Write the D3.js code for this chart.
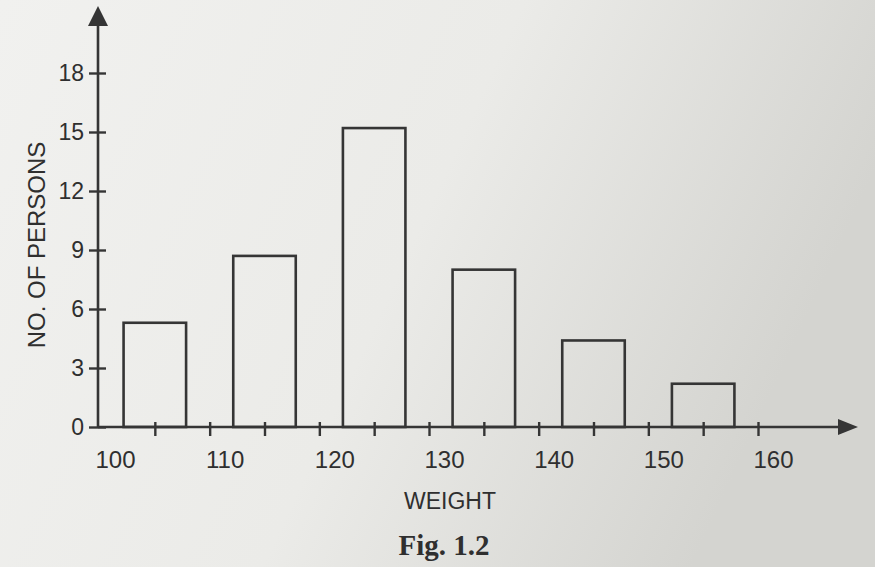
<!DOCTYPE html>
<html>
<head>
<meta charset="utf-8">
<script src="https://cdn.jsdelivr.net/npm/d3@7"></script>
<style>
  html, body { margin: 0; padding: 0; background: #efefec; }
  svg { display: block; }
  text { font-family: "Liberation Sans", Arial, sans-serif; fill: #2f2f2f; }
</style>
</head>
<body>
<svg id="chart" width="875" height="567"></svg>
<script>
// ---- data ----
const classStarts = [100, 110, 120, 130, 140, 150];
const persons = [5.3, 8.7, 15.2, 8.0, 4.4, 2.2];
const yTickValues = [0, 3, 6, 9, 12, 15, 18];
const xLabelValues = [100, 110, 120, 130, 140, 150, 160];
const xMinorTicks = [105, 110, 115, 120, 125, 130, 135, 140, 145, 150, 155, 160];
const xTitle = "WEIGHT";
const yTitle = "NO. OF PERSONS";
const caption = "Fig. 1.2";

// ---- setup ----
const svg = d3.select("#chart");
const ink = "#353535";
const textInk = "#2c2c2c";

const defs = svg.append("defs");
const grad = defs.append("linearGradient").attr("id", "paper")
  .attr("x1", "0").attr("y1", "0").attr("x2", "1").attr("y2", "0.3");
grad.append("stop").attr("offset", "0").attr("stop-color", "#f1f1ef");
grad.append("stop").attr("offset", "0.55").attr("stop-color", "#ebebe8");
grad.append("stop").attr("offset", "1").attr("stop-color", "#d4d4d0");
svg.append("rect").attr("width", 875).attr("height", 567).attr("fill", "url(#paper)");

const x = d3.scaleLinear().domain([100, 160]).range([100, 758]);
const y = d3.scaleLinear().domain([0, 18]).range([427, 73]);
const axisX0 = 98;
const axisY0 = y(0);

// ---- bars ----
const barHalf = 2.85;
svg.append("g").selectAll("rect").data(classStarts).join("rect")
  .attr("x", (d) => x(d + 5 - barHalf))
  .attr("width", (d) => x(d + 5 + barHalf) - x(d + 5 - barHalf))
  .attr("y", (d, i) => y(persons[i]))
  .attr("height", (d, i) => y(0) - y(persons[i]))
  .attr("fill", "none")
  .attr("stroke", ink)
  .attr("stroke-width", 2.6);

// ---- axes lines with arrows ----
svg.append("line").attr("x1", axisX0).attr("y1", axisY0).attr("x2", axisX0).attr("y2", 22)
  .attr("stroke", ink).attr("stroke-width", 2.6);
svg.append("path")
  .attr("d", `M${axisX0},6 L${axisX0 - 10},26 L${axisX0 + 10},26 Z`)
  .attr("fill", ink);
svg.append("line").attr("x1", axisX0).attr("y1", axisY0).attr("x2", 842).attr("y2", axisY0)
  .attr("stroke", ink).attr("stroke-width", 2.6);
svg.append("path")
  .attr("d", `M858,${axisY0} L838,${axisY0 - 8} L838,${axisY0 + 8} Z`)
  .attr("fill", ink);

// ---- y axis ticks / labels ----
const gy = svg.append("g").attr("transform", `translate(${axisX0},0)`)
  .call(d3.axisLeft(y).tickValues(yTickValues).tickSize(9).tickPadding(6).tickFormat(d3.format("d")));
gy.select(".domain").remove();
gy.selectAll(".tick line").attr("x1", 8).attr("x2", -9).attr("stroke", ink).attr("stroke-width", 2.4);
gy.selectAll(".tick text").attr("x", -14).attr("font-size", 23)
  .style("font-family", '"Liberation Sans", Arial, sans-serif').attr("fill", textInk);

// ---- x axis minor ticks ----
const gxm = svg.append("g").attr("transform", `translate(0,${axisY0})`)
  .call(d3.axisBottom(x).tickValues(xMinorTicks).tickSize(9).tickFormat(""));
gxm.select(".domain").remove();
gxm.selectAll(".tick line").attr("y1", -5).attr("y2", 9).attr("stroke", ink).attr("stroke-width", 2.4);

// ---- x axis labels ----
const gxl = svg.append("g").attr("transform", `translate(0,${axisY0})`)
  .call(d3.axisBottom(x).tickValues(xLabelValues).tickSize(0).tickFormat(d3.format("d")));
gxl.select(".domain").remove();
gxl.selectAll(".tick text").attr("x", 15).attr("y", 41).attr("dy", "0").attr("font-size", 24)
  .style("font-family", '"Liberation Sans", Arial, sans-serif').attr("fill", textInk);

// ---- titles ----
svg.append("text").attr("x", 450).attr("y", 509).attr("text-anchor", "middle")
  .attr("font-size", 23).attr("fill", textInk).text(xTitle);
svg.append("text").attr("transform", "translate(45,245) rotate(-90)").attr("text-anchor", "middle")
  .attr("font-size", 24).attr("fill", textInk).text(yTitle);
svg.append("text").attr("x", 444).attr("y", 555).attr("text-anchor", "middle")
  .style("font-family", '"Liberation Serif", "Times New Roman", serif')
  .attr("font-weight", "bold").attr("font-size", 29).attr("fill", "#2a2a2a").text(caption);
</script>
</body>
</html>
